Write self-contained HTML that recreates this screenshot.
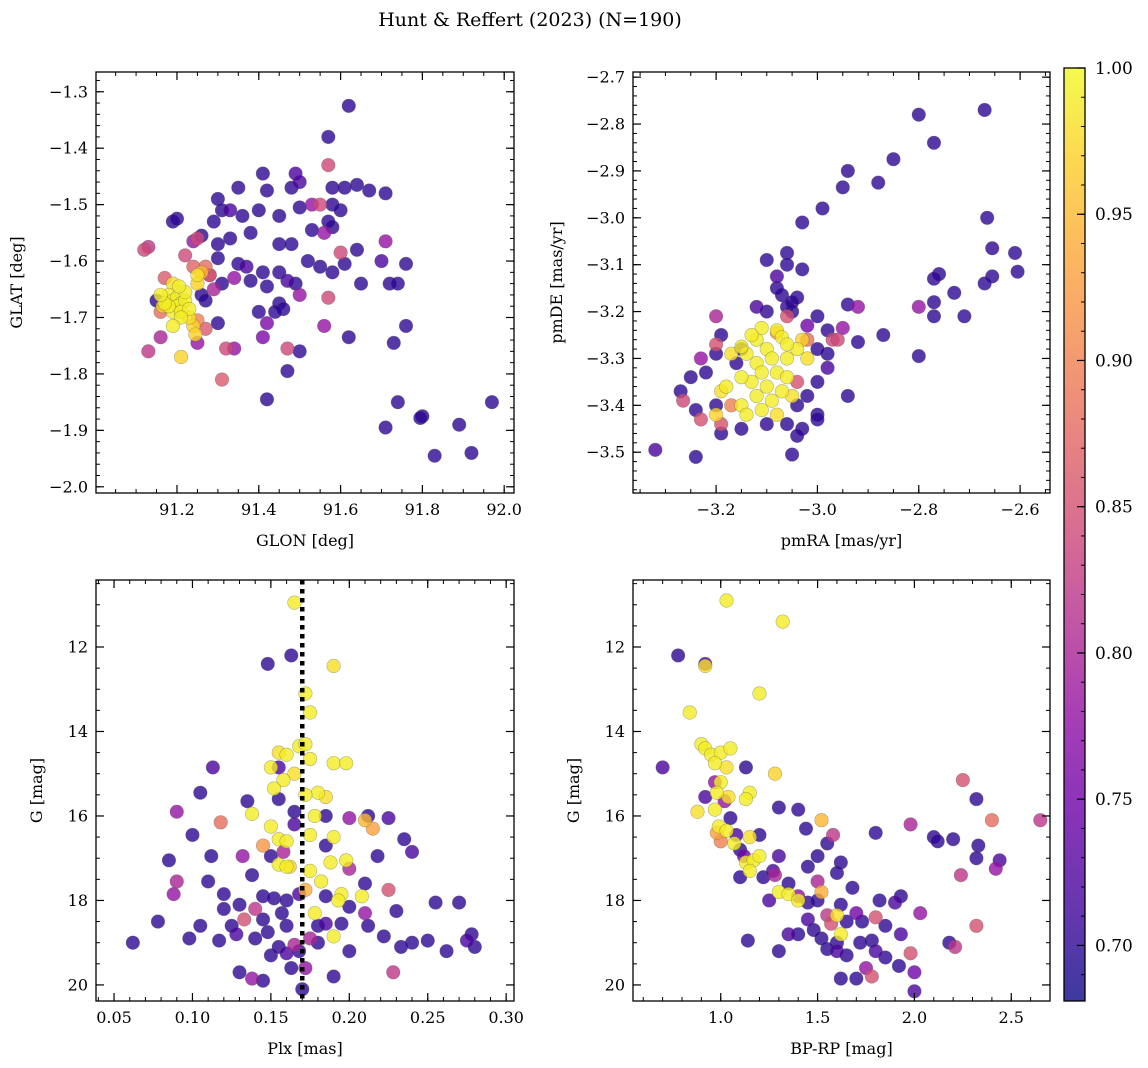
<!DOCTYPE html>
<html><head><meta charset="utf-8">
<style>
html,body{margin:0;padding:0;background:#fff;}
svg{display:block;font-family:"DejaVu Serif","Liberation Serif",serif;}
</style></head>
<body>
<svg id="fig" width="1148" height="1068" viewBox="0 0 1148 1068" xmlns="http://www.w3.org/2000/svg">
<defs>
<linearGradient id="plasma" x1="0" y1="1" x2="0" y2="0">
<stop offset="0" stop-color="#0d0887"/><stop offset="0.1" stop-color="#41049d"/><stop offset="0.2" stop-color="#6a00a8"/><stop offset="0.3" stop-color="#8f0da4"/><stop offset="0.4" stop-color="#b12a90"/><stop offset="0.5" stop-color="#cc4778"/><stop offset="0.6" stop-color="#e16462"/><stop offset="0.7" stop-color="#f2844b"/><stop offset="0.8" stop-color="#fca636"/><stop offset="0.9" stop-color="#fcce25"/><stop offset="1" stop-color="#f0f921"/>
</linearGradient>
</defs>
<text x="530" y="26" font-size="19" text-anchor="middle">Hunt &amp; Reffert (2023) (N=190)</text>
</svg>
<script>
// ---- data (x, y, membership probability) ----
const skyStars = [
[91.62,-1.325,.70],[91.57,-1.38,.70],[91.41,-1.445,.70],[91.49,-1.445,.72],[91.57,-1.43,.84],[91.35,-1.47,.70],[91.42,-1.475,.70],[91.48,-1.47,.70],[91.50,-1.46,.72],[91.58,-1.47,.70],[91.61,-1.47,.70],[91.64,-1.465,.70],[91.67,-1.475,.70],[91.71,-1.48,.70],[91.30,-1.49,.70],[91.31,-1.51,.70],[91.33,-1.51,.72],[91.36,-1.52,.70],[91.40,-1.51,.70],[91.45,-1.52,.70],[91.50,-1.505,.70],[91.55,-1.50,.84],[91.58,-1.50,.70],[91.60,-1.51,.70],[91.53,-1.50,.78],[91.19,-1.53,.70],[91.20,-1.525,.70],[91.29,-1.53,.70],[91.33,-1.56,.70],[91.25,-1.56,.84],[91.24,-1.565,.78],[91.26,-1.555,.70],[91.30,-1.57,.70],[91.38,-1.55,.70],[91.45,-1.57,.70],[91.48,-1.57,.70],[91.53,-1.545,.70],[91.56,-1.55,.78],[91.58,-1.54,.70],[91.57,-1.53,.70],[91.60,-1.585,.84],[91.64,-1.58,.70],[91.71,-1.565,.78],[91.12,-1.58,.84],[91.13,-1.575,.82],[91.22,-1.59,.84],[91.30,-1.595,.70],[91.35,-1.605,.70],[91.37,-1.61,.72],[91.41,-1.62,.70],[91.45,-1.62,.70],[91.47,-1.635,.72],[91.49,-1.64,.70],[91.52,-1.60,.70],[91.55,-1.61,.70],[91.58,-1.62,.70],[91.61,-1.605,.70],[91.70,-1.60,.72],[91.76,-1.605,.70],[91.28,-1.625,.80],[91.34,-1.63,.78],[91.38,-1.635,.70],[91.42,-1.645,.70],[91.65,-1.64,.70],[91.72,-1.64,.70],[91.74,-1.64,.70],[91.50,-1.66,.78],[91.57,-1.665,.84],[91.45,-1.675,.70],[91.46,-1.685,.70],[91.44,-1.69,.70],[91.40,-1.69,.70],[91.30,-1.71,.70],[91.42,-1.71,.76],[91.56,-1.715,.78],[91.76,-1.715,.70],[91.41,-1.735,.76],[91.62,-1.735,.70],[91.47,-1.755,.84],[91.50,-1.76,.70],[91.32,-1.755,.84],[91.34,-1.755,.78],[91.13,-1.76,.82],[91.16,-1.735,.80],[91.73,-1.745,.70],[91.47,-1.795,.70],[91.31,-1.81,.86],[91.42,-1.845,.70],[91.74,-1.85,.70],[91.71,-1.895,.70],[91.80,-1.875,.70],[91.795,-1.878,.70],[91.89,-1.89,.70],[91.97,-1.85,.70],[91.83,-1.945,.70],[91.92,-1.94,.70],
[91.15,-1.67,.70],[91.26,-1.66,.70],[91.27,-1.67,.70],[91.31,-1.64,.70],[91.25,-1.745,.78],[91.29,-1.65,.80],
[91.17,-1.63,.86],[91.16,-1.69,.88],[91.24,-1.61,.87],[91.27,-1.61,.88],[91.28,-1.625,.86],[91.25,-1.705,.90],[91.27,-1.72,.86],
[91.18,-1.66,.99],[91.19,-1.67,.99],[91.20,-1.665,.99],[91.21,-1.675,.99],[91.20,-1.68,.99],[91.22,-1.67,.99],[91.19,-1.69,.99],[91.21,-1.69,.99],[91.18,-1.68,.99],[91.17,-1.675,.99],[91.23,-1.685,.99],[91.22,-1.655,.99],[91.205,-1.645,.99],[91.19,-1.64,.98],[91.21,-1.70,.99],[91.23,-1.70,.98],[91.24,-1.715,.97],[91.245,-1.73,.97],[91.19,-1.715,.99],[91.21,-1.77,.97],[91.25,-1.625,.98],[91.25,-1.64,.97],[91.26,-1.62,.95],[91.16,-1.66,.99],[91.165,-1.68,.97]
];
const pmStars = [
[-2.80,-2.78,.70],[-2.77,-2.84,.70],[-2.85,-2.875,.70],[-2.88,-2.925,.70],[-2.94,-2.90,.70],[-2.95,-2.935,.70],[-2.99,-2.98,.70],[-3.03,-3.01,.70],[-2.67,-2.77,.70],[-2.665,-3.00,.70],[-2.655,-3.065,.70],[-2.61,-3.075,.70],[-2.605,-3.115,.70],[-2.655,-3.125,.70],[-2.67,-3.14,.70],[-2.73,-3.16,.70],[-2.76,-3.12,.70],[-2.77,-3.13,.70],[-2.77,-3.18,.70],[-2.77,-3.21,.70],[-2.71,-3.21,.70],[-2.80,-3.19,.78],[-2.80,-3.295,.70],[-2.87,-3.25,.70],[-2.92,-3.19,.78],[-2.92,-3.265,.70],[-2.94,-3.38,.70],[-2.94,-3.185,.70],[-2.95,-3.235,.78],[-2.97,-3.26,.84],[-2.96,-3.26,.84],[-2.98,-3.29,.70],[-3.00,-3.42,.70],[-3.00,-3.43,.70],[-3.03,-3.45,.70],[-3.04,-3.465,.70],[-3.05,-3.505,.70],[-3.32,-3.495,.72],[-3.24,-3.51,.70],[-3.27,-3.37,.70],[-3.265,-3.39,.84],[-3.23,-3.43,.85],[-3.06,-3.075,.70],[-3.06,-3.10,.70],[-3.10,-3.09,.70],[-3.08,-3.125,.72],[-3.03,-3.11,.70],[-3.07,-3.165,.70],[-3.04,-3.17,.70],[-3.05,-3.20,.70],[-3.06,-3.19,.70],
[-3.20,-3.21,.80],[-3.19,-3.25,.70],[-3.20,-3.29,.70],[-3.23,-3.30,.78],[-3.22,-3.33,.70],[-3.25,-3.34,.70],[-3.24,-3.41,.70],[-3.20,-3.40,.70],[-3.19,-3.46,.70],[-3.15,-3.45,.70],[-3.10,-3.44,.70],[-3.06,-3.44,.70],[-3.04,-3.40,.70],[-3.02,-3.38,.70],[-3.00,-3.35,.70],[-2.98,-3.32,.72],[-3.00,-3.28,.70],[-3.02,-3.23,.75],[-3.00,-3.21,.70],[-3.10,-3.20,.70],[-3.12,-3.19,.72],[-3.05,-3.18,.70],[-3.15,-3.28,.70],[-3.16,-3.31,.70],[-3.08,-3.15,.70],[-2.98,-3.24,.70],
[-3.08,-3.245,.92],[-3.02,-3.26,.88],[-3.04,-3.35,.85],[-3.06,-3.21,.85],[-3.19,-3.44,.85],[-3.20,-3.27,.85],[-3.17,-3.40,.90],
[-3.08,-3.24,.99],[-3.07,-3.255,.99],[-3.12,-3.26,.99],[-3.10,-3.28,.99],[-3.14,-3.29,.99],[-3.09,-3.30,.99],[-3.06,-3.30,.99],[-3.12,-3.31,.99],[-3.15,-3.275,.99],[-3.17,-3.29,.98],[-3.11,-3.33,.99],[-3.08,-3.33,.99],[-3.06,-3.34,.99],[-3.13,-3.35,.99],[-3.10,-3.36,.99],[-3.07,-3.37,.99],[-3.15,-3.34,.99],[-3.12,-3.38,.99],[-3.09,-3.39,.99],[-3.05,-3.38,.98],[-3.11,-3.41,.99],[-3.15,-3.40,.99],[-3.18,-3.36,.99],[-3.14,-3.42,.99],[-3.08,-3.42,.98],[-3.20,-3.42,.97],[-3.19,-3.37,.98],[-3.04,-3.28,.99],[-3.03,-3.26,.97],[-3.02,-3.30,.98],[-3.11,-3.235,.99],[-3.06,-3.27,.99],[-3.13,-3.25,.99]
];
const plxStars = [
[0.148,12.4,.70],[0.163,12.2,.70],[0.155,14.85,.72],[0.113,14.85,.72],[0.105,15.45,.70],[0.155,15.6,.70],[0.135,15.65,.70],[0.09,15.9,.78],[0.10,16.45,.70],[0.118,16.15,.88],[0.20,16.05,.78],[0.212,16.0,.70],[0.225,16.05,.72],[0.235,16.55,.70],[0.218,16.95,.70],[0.24,16.85,.72],[0.132,16.95,.78],[0.112,16.95,.70],[0.085,17.05,.70],[0.09,17.55,.80],[0.088,17.85,.78],[0.11,17.55,.70],[0.12,17.85,.70],[0.13,18.1,.70],[0.14,18.2,.82],[0.145,17.9,.70],[0.152,17.95,.70],[0.16,18.0,.70],[0.168,17.85,.72],[0.185,17.9,.70],[0.20,18.15,.70],[0.21,18.3,.78],[0.225,17.75,.85],[0.23,18.25,.70],[0.212,18.6,.70],[0.222,18.85,.70],[0.233,19.1,.70],[0.24,19.0,.70],[0.255,18.05,.70],[0.27,18.05,.70],[0.278,18.8,.70],[0.28,19.1,.70],[0.275,18.95,.72],[0.262,19.2,.70],[0.25,18.95,.70],[0.078,18.5,.70],[0.062,19.0,.70],[0.098,18.9,.70],[0.105,18.6,.70],[0.117,18.95,.70],[0.125,18.6,.70],[0.133,18.45,.85],[0.128,18.8,.72],[0.14,18.9,.70],[0.148,18.75,.70],[0.13,19.7,.70],[0.15,19.3,.70],[0.155,19.1,.70],[0.16,19.25,.72],[0.165,19.05,.80],[0.163,19.6,.70],[0.172,19.6,.78],[0.168,19.2,.70],[0.19,19.8,.70],[0.20,19.2,.70],[0.228,19.7,.82],[0.138,19.85,.78],[0.145,19.9,.70],[0.17,20.1,.70],[0.18,19.0,.70],[0.18,18.6,.70],[0.185,18.55,.72],[0.20,17.25,.80],[0.21,17.6,.70],[0.15,16.95,.70],[0.158,16.85,.80],[0.185,16.7,.70],[0.185,16.0,.70],[0.165,15.9,.70],[0.165,16.2,.72],[0.145,18.45,.70],[0.195,18.55,.70],[0.16,18.6,.70],[0.175,18.9,.80],[0.157,18.3,.70],[0.12,18.2,.70],[0.138,17.4,.70],
[0.165,10.95,.99],[0.19,12.45,.98],[0.172,13.1,.99],[0.175,13.55,.99],[0.168,14.35,.99],[0.172,14.3,.99],[0.155,14.5,.98],[0.16,14.55,.99],[0.175,14.65,.99],[0.19,14.75,.99],[0.198,14.75,.99],[0.15,14.85,.99],[0.165,15.0,.98],[0.158,15.15,.99],[0.152,15.35,.99],[0.18,15.45,.99],[0.172,15.5,.99],[0.185,15.55,.98],[0.138,15.95,.99],[0.178,16.0,.99],[0.15,16.25,.99],[0.155,16.55,.99],[0.16,16.6,.99],[0.175,16.45,.99],[0.19,16.5,.99],[0.21,16.1,.95],[0.215,16.3,.93],[0.198,17.05,.99],[0.188,17.1,.99],[0.155,17.15,.99],[0.16,17.2,.99],[0.175,17.3,.99],[0.182,17.55,.99],[0.172,17.75,.94],[0.195,17.85,.99],[0.193,18.0,.99],[0.208,17.9,.99],[0.178,18.3,.99],[0.19,18.85,.99],[0.162,17.2,.97],[0.145,16.7,.92]
];
const cmdStars = [
[0.78,12.2,.70],[0.92,12.4,.72],[0.70,14.85,.72],[0.97,15.2,.78],[0.92,15.55,.72],[1.13,14.85,.70],[1.02,15.65,.78],[1.05,16.05,.70],[1.08,16.45,.72],[1.10,16.8,.70],[1.12,16.95,.75],[1.20,16.45,.70],[1.30,15.8,.70],[1.40,15.85,.70],[1.44,16.3,.70],[1.55,16.65,.70],[1.58,16.45,.82],[1.50,16.95,.70],[1.30,16.95,.72],[1.27,17.3,.72],[1.10,17.45,.70],[1.22,17.45,.70],[1.28,17.4,.80],[1.45,17.2,.70],[1.50,17.55,.80],[1.62,17.1,.70],[1.60,17.35,.70],[1.68,17.7,.70],[1.40,17.9,.78],[1.45,18.05,.70],[1.55,18.35,.82],[1.45,18.45,.72],[1.57,18.55,.85],[1.65,18.5,.70],[1.73,18.5,.70],[1.80,18.4,.85],[1.82,18.0,.70],[1.90,18.05,.72],[1.93,17.9,.70],[1.98,16.2,.80],[1.80,16.4,.70],[2.10,16.5,.70],[2.12,16.6,.70],[2.20,16.55,.70],[2.25,15.15,.85],[2.32,15.6,.70],[2.40,16.1,.88],[2.65,16.1,.82],[2.44,17.05,.72],[2.42,17.25,.78],[2.33,16.7,.70],[2.32,17.0,.70],[2.24,17.4,.82],[2.03,18.3,.78],[1.93,18.8,.72],[1.98,19.25,.85],[2.00,19.7,.75],[2.00,20.15,.72],[1.92,19.55,.70],[1.85,19.35,.70],[1.80,19.2,.72],[1.78,18.95,.70],[1.72,19.0,.70],[1.75,19.6,.78],[1.70,19.85,.70],[1.62,19.85,.70],[1.65,19.3,.70],[1.60,19.0,.70],[1.60,19.2,.72],[1.55,19.15,.70],[1.52,18.9,.70],[1.48,18.7,.70],[1.40,18.8,.70],[1.35,18.8,.72],[1.30,19.2,.70],[1.14,18.95,.70],[1.78,19.8,.85],[2.18,19.0,.70],[2.21,19.1,.82],[2.32,18.6,.85],[1.70,18.3,.75],[1.85,18.6,.70],[1.62,18.1,.70],[1.25,18.0,.72],[1.35,17.6,.70],[1.50,18.0,.70],
[1.03,10.9,.99],[1.32,11.4,.99],[0.92,12.45,.98],[1.20,13.1,.99],[0.84,13.55,.99],[0.90,14.3,.99],[0.92,14.4,.99],[0.95,14.55,.99],[1.00,14.5,.99],[1.05,14.4,.99],[0.97,14.75,.99],[1.03,14.85,.98],[1.00,15.2,.99],[0.98,15.45,.99],[1.04,15.55,.98],[1.15,15.45,.99],[1.13,15.6,.99],[0.97,15.85,.99],[0.88,15.9,.98],[0.99,16.25,.99],[1.03,16.35,.99],[1.07,16.65,.99],[1.15,16.5,.98],[1.13,17.1,.99],[1.17,17.05,.99],[1.20,16.95,.99],[1.15,17.3,.99],[1.30,17.8,.99],[1.35,17.85,.99],[1.40,18.0,.99],[1.60,18.35,.98],[1.62,18.8,.99],[1.52,17.8,.94],[1.52,16.1,.95],[1.28,15.0,.97],[1.00,16.6,.90],[0.98,16.4,.93]
];
// tick labels
const skyXTicks = [91.2,91.4,91.6,91.8,92.0];
const skyYTicks = [-1.3,-1.4,-1.5,-1.6,-1.7,-1.8,-1.9,-2.0];
const pmXTicks = [-3.2,-3.0,-2.8,-2.6];
const pmYTicks = [-2.7,-2.8,-2.9,-3.0,-3.1,-3.2,-3.3,-3.4,-3.5];
const plxXTicks = [0.05,0.10,0.15,0.20,0.25,0.30];
const magYTicks = [12,14,16,18,20];
const cmdXTicks = [1.0,1.5,2.0,2.5];
const cbarTicks = [0.70,0.75,0.80,0.85,0.90,0.95,1.00];
const plxMedian = 0.17;
const probRange = [0.681, 1.0];

const NS = "http://www.w3.org/2000/svg";
const svg = document.getElementById('fig');
function mk(tag, attrs, parent){ const e=document.createElementNS(NS,tag); for(const k in attrs) e.setAttribute(k,attrs[k]); (parent||svg).appendChild(e); return e; }
const stops=[[0,[13,8,135]],[.1,[65,4,157]],[.2,[106,0,168]],[.3,[143,13,164]],[.4,[177,42,144]],[.5,[204,71,120]],[.6,[225,100,98]],[.7,[242,132,75]],[.8,[252,166,54]],[.9,[252,206,37]],[1,[240,249,33]]];
function plasma(p){ let t=(p-probRange[0])/(probRange[1]-probRange[0]); t=Math.max(0,Math.min(1,t));
  for(let i=1;i<stops.length;i++){ if(t<=stops[i][0]){ const a=stops[i-1],b=stops[i],f=(t-a[0])/(b[0]-a[0]); return 'rgb('+[0,1,2].map(j=>Math.round(a[1][j]+f*(b[1][j]-a[1][j]))).join(',')+')'; } }
  return 'rgb(240,249,33)'; }
function fmtNum(v,d){ const s=Math.abs(v).toFixed(d); return (v<0?'\u2212':'')+s; }

function panel(o){
  const L=o.box[0],T=o.box[1],R=o.box[2],B=o.box[3];
  const sx=v=>L+(v-o.xr[0])/(o.xr[1]-o.xr[0])*(R-L);
  const sy=v=>o.yinv ? T+(v-o.yr[0])/(o.yr[1]-o.yr[0])*(B-T) : B-(v-o.yr[0])/(o.yr[1]-o.yr[0])*(B-T);
  const g=mk('g',{});
  
  
  const clip=mk('clipPath',{id:'c'+o.name},g); mk('rect',{x:L,y:T,width:R-L,height:B-T},clip);
  const pts=mk('g',{'clip-path':'url(#c'+o.name+')'},g);
  const sorted=o.data.slice().sort((a,b)=>a[2]-b[2]);
  sorted.forEach(d=>{ const c=mk('circle',{cx:sx(d[0]),cy:sy(d[1]),r:6.8,fill:plasma(d[2]),'fill-opacity':0.8,stroke:'rgba(90,90,90,0.45)','stroke-width':0.6},pts);
    
     });
  if(o.vline!==undefined){ const l=mk('line',{x1:sx(o.vline),x2:sx(o.vline),y1:T,y2:B,stroke:'#000','stroke-width':4.5,'stroke-dasharray':'4.5,4.5'},g);
    
     }
  for(let v=Math.ceil(o.xr[0]/o.xm-1e-6)*o.xm; v<=o.xr[1]+1e-9; v+=o.xm){ const x=sx(v); mk('line',{x1:x,x2:x,y1:B,y2:B-4,stroke:'#000','stroke-width':1},g); mk('line',{x1:x,x2:x,y1:T,y2:T+4,stroke:'#000','stroke-width':1},g); }
  const y0=Math.min(o.yr[0],o.yr[1]), y1=Math.max(o.yr[0],o.yr[1]);
  for(let v=Math.ceil(y0/o.ym-1e-6)*o.ym; v<=y1+1e-9; v+=o.ym){ const y=sy(v); mk('line',{x1:L,x2:L+4,y1:y,y2:y,stroke:'#000','stroke-width':1},g); mk('line',{x1:R,x2:R-4,y1:y,y2:y,stroke:'#000','stroke-width':1},g); }
  o.xt.forEach(v=>{ const x=sx(v); mk('line',{x1:x,x2:x,y1:B,y2:B-8,stroke:'#000','stroke-width':1.2},g); mk('line',{x1:x,x2:x,y1:T,y2:T+8,stroke:'#000','stroke-width':1.2},g);
    const t=mk('text',{x:x,y:B+22,'font-size':16,'text-anchor':'middle'},g); t.textContent=fmtNum(v,o.xd);
      });
  o.yt.forEach(v=>{ const y=sy(v); mk('line',{x1:L,x2:L+8,y1:y,y2:y,stroke:'#000','stroke-width':1.2},g); mk('line',{x1:R,x2:R-8,y1:y,y2:y,stroke:'#000','stroke-width':1.2},g);
    const t=mk('text',{x:L-8,y:y+5.5,'font-size':16,'text-anchor':'end'},g); t.textContent=fmtNum(v,o.yd);
      });
  mk('rect',{x:L,y:T,width:R-L,height:B-T,fill:'none',stroke:'#000','stroke-width':1.3},g);
  const xl=mk('text',{x:(L+R)/2,y:B+53,'font-size':16,'text-anchor':'middle'},g); xl.textContent=o.xlabel;
   
  const yx=L-o.ylOff, yy=(T+B)/2;
  const yl=mk('text',{x:yx,y:yy,'font-size':16,'text-anchor':'middle',transform:'rotate(-90 '+yx+' '+yy+')'},g); yl.textContent=o.ylabel;
   
}

panel({name:'sky-position-panel',box:[96,72,514,493],xr:[91.002,92.024],yr:[-2.011,-1.265],data:skyStars,xt:skyXTicks,yt:skyYTicks,xm:0.05,ym:0.02,xd:1,yd:1,xlabel:'GLON [deg]',ylabel:'GLAT [deg]',ylOff:74});
panel({name:'proper-motion-panel',box:[633,72,1050,493],xr:[-3.364,-2.541],yr:[-3.587,-2.689],data:pmStars,xt:pmXTicks,yt:pmYTicks,xm:0.05,ym:0.02,xd:1,yd:1,xlabel:'pmRA [mas/yr]',ylabel:'pmDE [mas/yr]',ylOff:71});
panel({name:'parallax-magnitude-panel',box:[96,580,514,1001],xr:[0.0385,0.305],yr:[10.414,20.38],yinv:true,data:plxStars,xt:plxXTicks,yt:magYTicks,xm:0.01,ym:0.5,xd:2,yd:0,xlabel:'Plx [mas]',ylabel:'G [mag]',ylOff:54,vline:plxMedian});
panel({name:'color-magnitude-panel',box:[633,580,1050,1001],xr:[0.547,2.7],yr:[10.414,20.38],yinv:true,data:cmdStars,xt:cmdXTicks,yt:magYTicks,xm:0.1,ym:0.5,xd:1,yd:0,xlabel:'BP-RP [mag]',ylabel:'G [mag]',ylOff:54});

const cb=mk('g',{});


const cL=1064,cR=1085,cT=68,cB=1001;
mk('rect',{x:cL,y:cT,width:cR-cL,height:cB-cT,fill:'url(#plasma)','fill-opacity':0.8},cb);
const cy=v=>cB-(v-probRange[0])/(probRange[1]-probRange[0])*(cB-cT);
for(let v=0.69; v<=1.0001; v+=0.01){ mk('line',{x1:cR,x2:cR-4,y1:cy(v),y2:cy(v),stroke:'#000','stroke-width':1},cb); }
cbarTicks.forEach(v=>{ const y=cy(v); mk('line',{x1:cR,x2:cR-8,y1:y,y2:y,stroke:'#000','stroke-width':1.2},cb);
  const t=mk('text',{x:cR+10,y:y+6,'font-size':17},cb); t.textContent=v.toFixed(2);
    });
mk('rect',{x:cL,y:cT,width:cR-cL,height:cB-cT,fill:'none',stroke:'#000','stroke-width':1.3},cb);
</script>
</body></html>
